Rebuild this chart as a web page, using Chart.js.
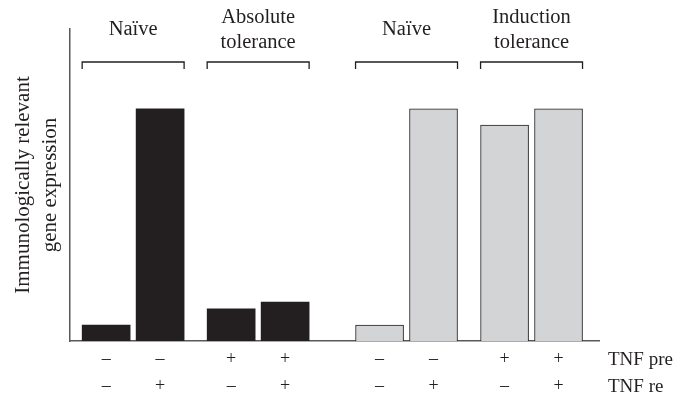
<!DOCTYPE html>
<html>
<head>
<meta charset="utf-8">
<script src="https://cdn.jsdelivr.net/npm/chart.js@4"></script>
<style>
  body { margin: 0; background: #fff; }
  #wrap { width: 682px; height: 396px; }
</style>
</head>
<body>
<div id="wrap"><canvas id="grafico" width="682" height="396"></canvas></div>
<script>
// ===================== DATOS =====================
const grupos = [["Naïve"], ["Absolute", "tolerance"], ["Naïve"], ["Induction", "tolerance"]];
const tnfPre = ["–", "–", "+", "+", "–", "–", "+", "+"];
const tnfRe = ["–", "+", "–", "+", "–", "+", "–", "+"];
const expresion = [5.1, 74.4, 10.3, 12.5, 5.1, 74.4, 69.2, 74.4];
const filaEtiquetas = ["TNF pre", "TNF re"];

// ===================== LAYOUT / ESTILO =====================
const POSICION = [4, 10, 17.9, 23.9, 34.4, 40.4, 48.3, 54.3]; // slots en el eje x
const X_MAX = 58.8;
const ANCHO_BARRA = 48;
const NEGRO = "#231f20";
const GRIS = "#d3d4d6";
const FUENTE = "'Liberation Serif', 'DejaVu Serif', serif";

const colorFondo = expresion.map((_, i) => (i < 4 ? NEGRO : GRIS));
const colorBorde = expresion.map(() => NEGRO);
const anchoBorde = expresion.map((_, i) => (i < 4 ? 0 : 1));

// ===================== PLUGIN: CORCHETES + ROTULOS =====================
const corchetes = {
  id: "corchetes",
  afterDraw(chart) {
    const ctx = chart.ctx;
    const xs = chart.scales.x;
    const area = chart.chartArea;
    ctx.save();
    ctx.strokeStyle = NEGRO;
    ctx.lineWidth = 1.3;
    ctx.fillStyle = NEGRO;
    ctx.font = "20.5px " + FUENTE;
    ctx.textAlign = "center";
    ctx.textBaseline = "middle";

    grupos.forEach((lineas, g) => {
      const x0 = xs.getPixelForValue(POSICION[g * 2]) - ANCHO_BARRA / 2;
      const x1 = xs.getPixelForValue(POSICION[g * 2 + 1]) + ANCHO_BARRA / 2;
      const y = area.top + 33;
      ctx.beginPath();
      ctx.moveTo(x0, y + 7);
      ctx.lineTo(x0, y);
      ctx.lineTo(x1, y);
      ctx.lineTo(x1, y + 7);
      ctx.stroke();

      const cx = (x0 + x1) / 2;
      if (lineas.length === 1) {
        ctx.fillText(lineas[0], cx, area.top + 1);
      } else {
        ctx.fillText(lineas[0], cx, area.top - 11);
        ctx.fillText(lineas[1], cx, area.top + 14);
      }
    });

    // etiquetas de filas a la derecha
    ctx.textAlign = "left";
    ctx.font = "19px " + FUENTE;
    filaEtiquetas.forEach((txt, i) => {
      ctx.fillText(txt, area.right + 9, area.bottom + 19 + i * 27);
    });
    ctx.restore();
  },
};

// ===================== CHART =====================
const ctx = document.getElementById("grafico").getContext("2d");
new Chart(ctx, {
  type: "bar",
  data: {
    datasets: [
      {
        data: expresion.map((v, i) => ({ x: POSICION[i], y: v })),
        backgroundColor: colorFondo,
        borderColor: colorBorde,
        borderWidth: anchoBorde,
        barThickness: ANCHO_BARRA,
      },
    ],
  },
  options: {
    responsive: false,
    animation: false,
    layout: { padding: { top: 29, right: 83, left: 6, bottom: 0 } },
    plugins: { legend: { display: false }, tooltip: { enabled: false } },
    scales: {
      x: {
        type: "linear",
        min: 0,
        max: X_MAX,
        offset: false,
        grid: { display: false, drawTicks: false },
        border: { display: true, color: "#58595b", width: 1.5 },
        afterBuildTicks: (s) => {
          s.ticks = POSICION.map((v) => ({ value: v }));
        },
        afterFit: (s) => {
          s.height = 55;
        },
        ticks: {
          padding: 5,
          color: NEGRO,
          maxRotation: 0,
          autoSkip: false,
          font: { family: FUENTE, size: 18, lineHeight: 1.5 },
          callback: (val, idx) => [tnfPre[idx], tnfRe[idx]],
        },
      },
      y: {
        min: 0,
        max: 100,
        grid: { display: false, drawTicks: false },
        border: { display: true, color: "#58595b", width: 1.5 },
        ticks: { display: false },
        title: {
          display: true,
          text: ["Immunologically relevant", "gene expression"],
          color: NEGRO,
          font: { family: FUENTE, size: 21, lineHeight: 1.29 },
          padding: { top: 4, bottom: 6 },
        },
      },
    },
  },
  plugins: [corchetes],
});
</script>
</body>
</html>
